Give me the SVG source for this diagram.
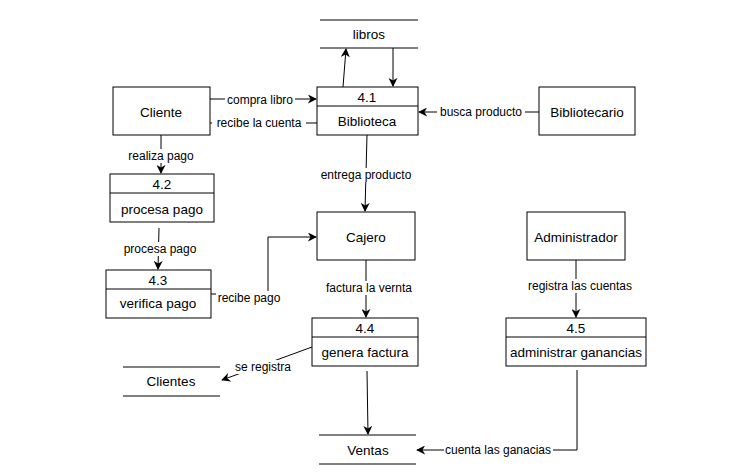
<svg xmlns="http://www.w3.org/2000/svg" width="749" height="473" viewBox="0 0 749 473">
<style>
text{font-family:"Liberation Sans",Arial,sans-serif;fill:#000;text-anchor:middle;dominant-baseline:central}
.n{font-size:13.5px}
.l{font-size:12px}
.box{fill:#fff;stroke:#000;stroke-width:1}
.ln{fill:none;stroke:#000;stroke-width:1}
.c{fill:none;stroke:#000;stroke-width:1}
.lbg{fill:#fff}
</style>
<defs>
<marker id="a" viewBox="0 0 10 10" refX="9" refY="5" markerWidth="9" markerHeight="9" orient="auto" markerUnits="userSpaceOnUse"><path d="M0,0 L10,5 L0,10 L3,5 Z" fill="#000"/></marker>
</defs>
<rect width="749" height="473" fill="#fff"/>
<g id="connectors">
<path class="c" d="M343,87 L346,49" marker-end="url(#a)"/>
<path class="c" d="M393,48 L393,86" marker-end="url(#a)"/>
<path class="c" d="M210,99 L316,99" marker-end="url(#a)"/>
<path class="c" d="M317,123 L210,123"/>
<path class="c" d="M539,112 L419,112" marker-end="url(#a)"/>
<path class="c" d="M367,135 L365,211" marker-end="url(#a)"/>
<path class="c" d="M161,135 L161,173" marker-end="url(#a)"/>
<path class="c" d="M159,228 L158,269" marker-end="url(#a)"/>
<path class="c" d="M211,294 L268,294 L268,237 L316,237" marker-end="url(#a)"/>
<path class="c" d="M366,260 L366,317" marker-end="url(#a)"/>
<path class="c" d="M312,347 L222,380" marker-end="url(#a)"/>
<path class="c" d="M367,371 L368,434" marker-end="url(#a)"/>
<path class="c" d="M576,260 L576,317" marker-end="url(#a)"/>
<path class="c" d="M577,370 L577,450 L417,450" marker-end="url(#a)"/>
<rect class="lbg" x="225" y="93" width="70" height="14"/>
<text class="l" x="260" y="100">compra libro</text>
<rect class="lbg" x="212" y="116" width="94" height="14"/>
<text class="l" x="259" y="123">recibe la cuenta</text>
<rect class="lbg" x="437" y="105" width="88" height="14"/>
<text class="l" x="481" y="112">busca producto</text>
<rect class="lbg" x="317" y="168" width="98" height="14"/>
<text class="l" x="366" y="175">entrega producto</text>
<rect class="lbg" x="128" y="149" width="66" height="14"/>
<text class="l" x="161" y="156">realiza pago</text>
<rect class="lbg" x="122" y="242" width="76" height="14"/>
<text class="l" x="160" y="249">procesa pago</text>
<rect class="lbg" x="216" y="291" width="66" height="14"/>
<text class="l" x="249" y="298">recibe pago</text>
<rect class="lbg" x="321" y="281" width="96" height="14"/>
<text class="l" x="369" y="288">factura la vernta</text>
<rect class="lbg" x="233" y="360" width="60" height="14"/>
<text class="l" x="263" y="367">se registra</text>
<rect class="lbg" x="524" y="279" width="112" height="14"/>
<text class="l" x="580" y="286">registra las cuentas</text>
<rect class="lbg" x="444" y="443" width="109" height="14"/>
<text class="l" x="498" y="450">cuenta las ganacias</text>
</g>
<g id="libros">
<line class="ln" x1="320" y1="20" x2="418" y2="20"/>
<line class="ln" x1="320" y1="48" x2="418" y2="48"/>
<text class="n" x="369" y="34">libros</text>
</g>
<g id="cliente">
<rect class="box" x="113" y="87" width="97" height="48"/>
<text class="n" x="161" y="112">Cliente</text>
</g>
<g id="p41">
<rect class="box" x="317" y="87" width="101" height="48"/>
<line class="ln" x1="317" y1="106" x2="418" y2="106"/>
<text class="n" x="367" y="97">4.1</text>
<text class="n" x="367" y="121">Biblioteca</text>
</g>
<g id="bibliotecario">
<rect class="box" x="539" y="87" width="96" height="48"/>
<text class="n" x="587" y="112">Bibliotecario</text>
</g>
<g id="p42">
<rect class="box" x="110" y="174" width="104" height="48"/>
<line class="ln" x1="110" y1="193" x2="214" y2="193"/>
<text class="n" x="162" y="184">4.2</text>
<text class="n" x="162" y="209">procesa pago</text>
</g>
<g id="p43">
<rect class="box" x="106" y="270" width="105" height="48"/>
<line class="ln" x1="106" y1="289" x2="211" y2="289"/>
<text class="n" x="158" y="280">4.3</text>
<text class="n" x="158" y="303">verifica pago</text>
</g>
<g id="cajero">
<rect class="box" x="317" y="212" width="98" height="48"/>
<text class="n" x="366" y="237">Cajero</text>
</g>
<g id="p44">
<rect class="box" x="312" y="318" width="106" height="48"/>
<line class="ln" x1="312" y1="337" x2="418" y2="337"/>
<text class="n" x="365" y="328">4.4</text>
<text class="n" x="365" y="352">genera factura</text>
</g>
<g id="clientes">
<line class="ln" x1="123" y1="367" x2="220" y2="367"/>
<line class="ln" x1="123" y1="396" x2="220" y2="396"/>
<text class="n" x="171" y="381">Clientes</text>
</g>
<g id="ventas">
<line class="ln" x1="319" y1="435" x2="416" y2="435"/>
<line class="ln" x1="319" y1="464" x2="416" y2="464"/>
<text class="n" x="368" y="450">Ventas</text>
</g>
<g id="administrador">
<rect class="box" x="527" y="212" width="98" height="48"/>
<text class="n" x="576" y="237">Administrador</text>
</g>
<g id="p45">
<rect class="box" x="506" y="318" width="140" height="48"/>
<line class="ln" x1="506" y1="337" x2="646" y2="337"/>
<text class="n" x="576" y="328">4.5</text>
<text class="n" x="576" y="352">administrar ganancias</text>
</g>
</svg>
